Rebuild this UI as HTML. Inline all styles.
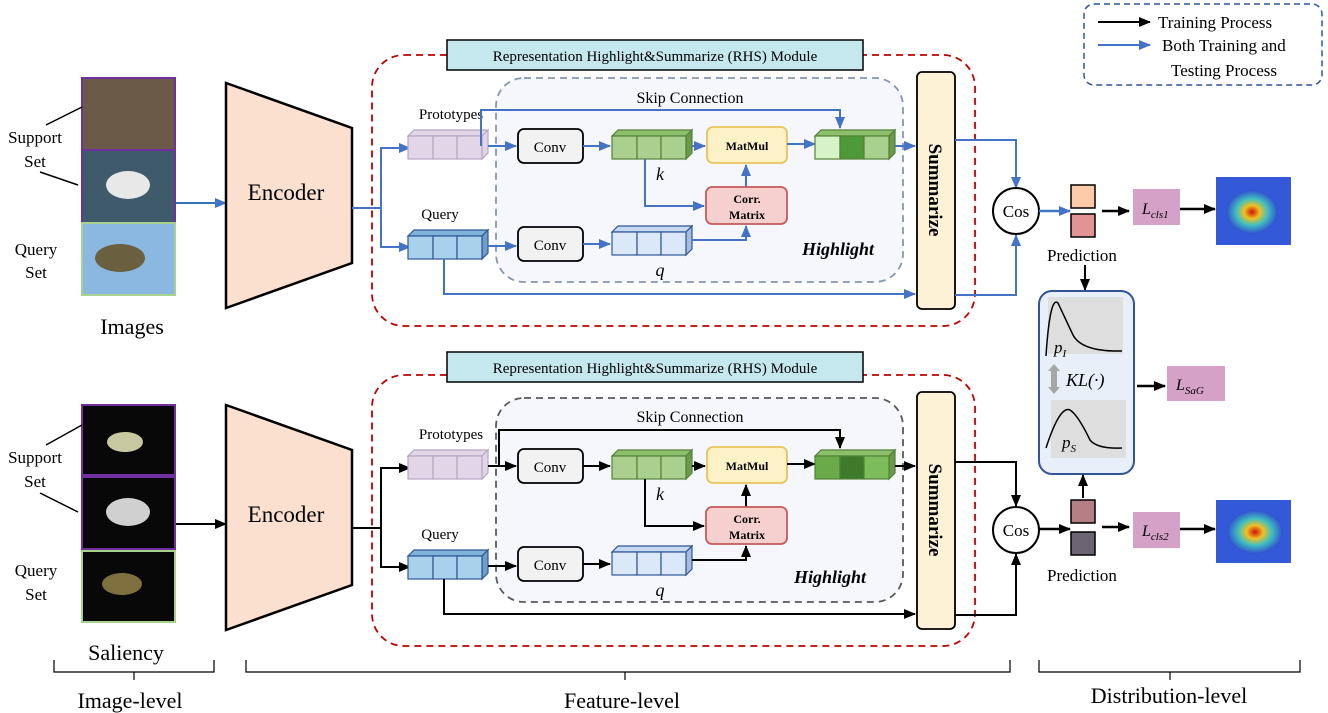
<!DOCTYPE html>
<html><head><meta charset="utf-8"><style>
html,body{margin:0;padding:0;background:#fff;}
svg{display:block;font-family:"Liberation Serif",serif;}
</style></head><body>
<svg width="1328" height="713" viewBox="0 0 1328 713" xmlns="http://www.w3.org/2000/svg">
<defs>
<marker id="ab" markerWidth="12" markerHeight="10" refX="11" refY="5" orient="auto" markerUnits="userSpaceOnUse"><path d="M0,0 L12,5 L0,10 z" fill="#4472c4"/></marker>
<marker id="ak" markerWidth="12" markerHeight="10" refX="11" refY="5" orient="auto" markerUnits="userSpaceOnUse"><path d="M0,0 L12,5 L0,10 z" fill="#000"/></marker>
<radialGradient id="heat" cx="0.5" cy="0.5" r="0.5"><stop offset="0" stop-color="#d01010"/><stop offset="0.3" stop-color="#f0c020"/><stop offset="0.6" stop-color="#40c0c0"/><stop offset="1" stop-color="#3050d0"/></radialGradient>
</defs>

<rect x="1084" y="4" width="238" height="81" rx="10" fill="none" stroke="#2f5597" stroke-width="1.5" stroke-dasharray="6,4"/>
<line x1="1098" y1="22" x2="1150" y2="22" stroke="#000" stroke-width="2" marker-end="url(#ak)"/>
<text x="1158" y="28" font-size="17">Training Process</text>
<line x1="1098" y1="45" x2="1150" y2="45" stroke="#4472c4" stroke-width="2" marker-end="url(#ab)"/>
<text x="1162" y="51" font-size="17">Both Training and</text>
<text x="1171" y="76" font-size="17">Testing Process</text>

<rect x="82" y="78" width="93" height="72" fill="#6b5a48" stroke="#7030a0" stroke-width="2"/>
<rect x="82" y="150" width="93" height="73" fill="#3f5a6a" stroke="#7030a0" stroke-width="2"/>
<ellipse cx="128" cy="185" rx="22" ry="14" fill="#e8e8e8"/>
<rect x="82" y="223" width="93" height="72" fill="#8ab8e0" stroke="#a9d18e" stroke-width="2"/>
<ellipse cx="120" cy="258" rx="25" ry="14" fill="#6a6040"/>
<text x="35" y="143" font-size="17" text-anchor="middle">Support</text>
<text x="35" y="167" font-size="17" text-anchor="middle">Set</text>
<line x1="46" y1="125" x2="82" y2="107" stroke="#000" stroke-width="1.5"/>
<line x1="40" y1="172" x2="78" y2="185" stroke="#000" stroke-width="1.5"/>
<text x="36" y="255" font-size="17" text-anchor="middle">Query</text>
<text x="36" y="278" font-size="17" text-anchor="middle">Set</text>
<text x="132" y="334" font-size="22" text-anchor="middle">Images</text>
<line x1="176" y1="203" x2="226" y2="203" stroke="#2e75b6" stroke-width="2" marker-end="url(#ab)"/>

<rect x="82" y="405" width="93" height="70" fill="#080808" stroke="#7030a0" stroke-width="2"/>
<ellipse cx="125" cy="442" rx="18" ry="10" fill="#c8c8a0"/>
<rect x="82" y="477" width="93" height="72" fill="#080808" stroke="#7030a0" stroke-width="2"/>
<ellipse cx="128" cy="512" rx="22" ry="14" fill="#d0d0d0"/>
<rect x="82" y="551" width="93" height="71" fill="#080808" stroke="#a9d18e" stroke-width="2"/>
<ellipse cx="122" cy="584" rx="20" ry="11" fill="#807040"/>
<text x="35" y="463" font-size="17" text-anchor="middle">Support</text>
<text x="35" y="487" font-size="17" text-anchor="middle">Set</text>
<line x1="46" y1="445" x2="82" y2="425" stroke="#000" stroke-width="1.5"/>
<line x1="40" y1="493" x2="78" y2="512" stroke="#000" stroke-width="1.5"/>
<text x="36" y="576" font-size="17" text-anchor="middle">Query</text>
<text x="36" y="600" font-size="17" text-anchor="middle">Set</text>
<text x="126" y="660" font-size="22" text-anchor="middle">Saliency</text>
<line x1="176" y1="524" x2="226" y2="524" stroke="#000" stroke-width="2" marker-end="url(#ak)"/>

<polygon points="226,83 352,128 352,263 226,308" fill="#fbe0d0" stroke="#000" stroke-width="2.5"/>
<text x="286" y="200" font-size="23" text-anchor="middle">Encoder</text>
<polygon points="226,405 352,450 352,585 226,630" fill="#fbe0d0" stroke="#000" stroke-width="2.5"/>
<text x="286" y="522" font-size="23" text-anchor="middle">Encoder</text>

<g>
<rect x="372" y="55" width="603" height="271" rx="32" fill="none" stroke="#c00000" stroke-width="1.8" stroke-dasharray="7,5"/>
<rect x="447" y="40" width="416" height="30" fill="#c5e8ef" stroke="#000" stroke-width="1.5"/>
<text x="655" y="61" font-size="15" text-anchor="middle">Representation Highlight&amp;Summarize (RHS) Module</text>
<rect x="496" y="78" width="407" height="204" rx="28" fill="#f5f7fd" stroke="#8497b0" stroke-width="1.8" stroke-dasharray="7,5"/>
<text x="690" y="103" font-size="16" text-anchor="middle">Skip Connection</text>
<text x="451" y="119" font-size="15" text-anchor="middle">Prototypes</text>
<text x="440" y="219" font-size="15" text-anchor="middle">Query</text>
<polyline points="352,208 381,208 381,148 410,148" fill="none" stroke="#4472c4" stroke-width="2" marker-end="url(#ab)"/>
<polyline points="381,208 381,247 410,247" fill="none" stroke="#4472c4" stroke-width="2" marker-end="url(#ab)"/>
<g stroke="#b4a7c4" stroke-width="1.2" fill="#e3d5e8">
<polygon points="408,136 414,130 488,130 482,136"/><polygon points="482,136 488,130 488,153 482,159"/>
<rect x="408" y="136" width="25" height="23"/><rect x="433" y="136" width="24" height="23"/><rect x="457" y="136" width="25" height="23"/></g>
<g stroke="#2f5597" stroke-width="1.2" fill="#a8d2ec">
<polygon points="408,236 414,230 488,230 482,236" fill="#7fb4da"/><polygon points="482,236 488,230 488,253 482,259" fill="#6f9fc8"/>
<rect x="408" y="236" width="25" height="23"/><rect x="433" y="236" width="24" height="23"/><rect x="457" y="236" width="25" height="23"/></g>
<polyline points="488,146 516,146" stroke="#4472c4" stroke-width="2" marker-end="url(#ab)"/>
<polyline points="481,146 481,110 840,110 840,128" fill="none" stroke="#4472c4" stroke-width="2" marker-end="url(#ab)"/>
<line x1="488" y1="246" x2="516" y2="246" stroke="#4472c4" stroke-width="2" marker-end="url(#ab)"/>
<polyline points="444,259 444,294 915,294" fill="none" stroke="#4472c4" stroke-width="2" marker-end="url(#ab)"/>
<rect x="518" y="129" width="65" height="34" rx="6" fill="#f2f2f2" stroke="#000" stroke-width="1.8"/>
<text x="550" y="152" font-size="15" text-anchor="middle">Conv</text>
<rect x="518" y="227" width="65" height="34" rx="6" fill="#f2f2f2" stroke="#000" stroke-width="1.8"/>
<text x="550" y="250" font-size="15" text-anchor="middle">Conv</text>
<line x1="583" y1="146" x2="610" y2="146" stroke="#4472c4" stroke-width="2" marker-end="url(#ab)"/>
<line x1="583" y1="244" x2="610" y2="244" stroke="#4472c4" stroke-width="2" marker-end="url(#ab)"/>
<g stroke="#538135" stroke-width="1.2" fill="#a9d08e">
<polygon points="612,136 618,130 692,130 686,136" fill="#8cc06c"/><polygon points="686,136 692,130 692,153 686,159" fill="#6a9a4a"/>
<rect x="612" y="136" width="25" height="23"/><rect x="637" y="136" width="24" height="23"/><rect x="661" y="136" width="25" height="23"/></g>
<g stroke="#2f5597" stroke-width="1.2" fill="#dae8fa">
<polygon points="612,232 618,226 692,226 686,232" fill="#c6d9f1"/><polygon points="686,232 692,226 692,249 686,255" fill="#a6bede"/>
<rect x="612" y="232" width="25" height="23"/><rect x="637" y="232" width="24" height="23"/><rect x="661" y="232" width="25" height="23"/></g>
<text x="660" y="180" font-size="18" font-style="italic" text-anchor="middle">k</text>
<text x="660" y="276" font-size="18" font-style="italic" text-anchor="middle">q</text>
<line x1="692" y1="146" x2="705" y2="146" stroke="#4472c4" stroke-width="2" marker-end="url(#ab)"/>
<polyline points="645,159 645,206 704,206" fill="none" stroke="#4472c4" stroke-width="2" marker-end="url(#ab)"/>
<polyline points="692,240 746,240 746,226" fill="none" stroke="#4472c4" stroke-width="2" marker-end="url(#ab)"/>
<line x1="746" y1="187" x2="746" y2="165" stroke="#4472c4" stroke-width="2" marker-end="url(#ab)"/>
<rect x="707" y="127" width="80" height="36" rx="6" fill="#fdf1c7" stroke="#e8c35a" stroke-width="1.8"/>
<text x="747" y="150" font-size="12" font-weight="bold" text-anchor="middle">MatMul</text>
<rect x="706" y="187" width="81" height="37" rx="6" fill="#f6cfcf" stroke="#c55a5a" stroke-width="1.8"/>
<text x="747" y="203" font-size="12" font-weight="bold" text-anchor="middle">Corr.</text>
<text x="747" y="219" font-size="12" font-weight="bold" text-anchor="middle">Matrix</text>
<line x1="787" y1="144" x2="815" y2="144" stroke="#4472c4" stroke-width="2" marker-end="url(#ab)"/>
<g stroke="#538135" stroke-width="1.2">
<polygon points="815,136 821,130 895,130 889,136" fill="#8cc06c"/><polygon points="889,136 895,130 895,153 889,159" fill="#6a9a4a"/>
<rect x="815" y="136" width="25" height="23" fill="#d8f2c8"/><rect x="840" y="136" width="24" height="23" fill="#4e9a3a"/><rect x="864" y="136" width="25" height="23" fill="#a9d08e"/></g>
<line x1="895" y1="146" x2="915" y2="146" stroke="#4472c4" stroke-width="2" marker-end="url(#ab)"/>
<text x="838" y="255" font-size="18" font-weight="bold" font-style="italic" text-anchor="middle">Highlight</text>
<rect x="917" y="72" width="38" height="237" rx="5" fill="#fdf1d6" stroke="#000" stroke-width="1.8"/>
<text transform="translate(929,190) rotate(90)" font-size="19" font-weight="bold" text-anchor="middle">Summarize</text>
<polyline points="955,140 1016,140 1016,188" fill="none" stroke="#4472c4" stroke-width="2" marker-end="url(#ab)"/>
<polyline points="955,295 1016,295 1016,235" fill="none" stroke="#4472c4" stroke-width="2" marker-end="url(#ab)"/>
</g>

<g>
<rect x="372" y="375" width="603" height="271" rx="32" fill="none" stroke="#c00000" stroke-width="1.8" stroke-dasharray="7,5"/>
<rect x="447" y="352" width="416" height="30" fill="#c5e8ef" stroke="#000" stroke-width="1.5"/>
<text x="655" y="373" font-size="15" text-anchor="middle">Representation Highlight&amp;Summarize (RHS) Module</text>
<rect x="496" y="398" width="407" height="204" rx="28" fill="#f5f7fd" stroke="#595959" stroke-width="1.8" stroke-dasharray="7,5"/>
<text x="690" y="422" font-size="16" text-anchor="middle">Skip Connection</text>
<text x="451" y="439" font-size="15" text-anchor="middle">Prototypes</text>
<text x="440" y="539" font-size="15" text-anchor="middle">Query</text>
<polyline points="352,528 381,528 381,468 410,468" fill="none" stroke="#000" stroke-width="2" marker-end="url(#ak)"/>
<polyline points="381,528 381,567 410,567" fill="none" stroke="#000" stroke-width="2" marker-end="url(#ak)"/>
<g stroke="#b4a7c4" stroke-width="1.2" fill="#e3d5e8">
<polygon points="408,456 414,450 488,450 482,456"/><polygon points="482,456 488,450 488,473 482,479"/>
<rect x="408" y="456" width="25" height="23"/><rect x="433" y="456" width="24" height="23"/><rect x="457" y="456" width="25" height="23"/></g>
<g stroke="#2f5597" stroke-width="1.2" fill="#a8d2ec">
<polygon points="408,556 414,550 488,550 482,556" fill="#7fb4da"/><polygon points="482,556 488,550 488,573 482,579" fill="#6f9fc8"/>
<rect x="408" y="556" width="25" height="23"/><rect x="433" y="556" width="24" height="23"/><rect x="457" y="556" width="25" height="23"/></g>
<line x1="488" y1="466" x2="516" y2="466" stroke="#000" stroke-width="2" marker-end="url(#ak)"/>
<polyline points="499,466 499,430 840,430 840,448" fill="none" stroke="#000" stroke-width="2" marker-end="url(#ak)"/>
<line x1="488" y1="566" x2="516" y2="566" stroke="#000" stroke-width="2" marker-end="url(#ak)"/>
<polyline points="444,579 444,614 915,614" fill="none" stroke="#000" stroke-width="2" marker-end="url(#ak)"/>
<rect x="518" y="449" width="65" height="34" rx="6" fill="#f2f2f2" stroke="#000" stroke-width="1.8"/>
<text x="550" y="472" font-size="15" text-anchor="middle">Conv</text>
<rect x="518" y="547" width="65" height="34" rx="6" fill="#f2f2f2" stroke="#000" stroke-width="1.8"/>
<text x="550" y="570" font-size="15" text-anchor="middle">Conv</text>
<line x1="583" y1="466" x2="610" y2="466" stroke="#000" stroke-width="2" marker-end="url(#ak)"/>
<line x1="583" y1="564" x2="610" y2="564" stroke="#000" stroke-width="2" marker-end="url(#ak)"/>
<g stroke="#538135" stroke-width="1.2" fill="#a9d08e">
<polygon points="612,456 618,450 692,450 686,456" fill="#8cc06c"/><polygon points="686,456 692,450 692,473 686,479" fill="#6a9a4a"/>
<rect x="612" y="456" width="25" height="23"/><rect x="637" y="456" width="24" height="23"/><rect x="661" y="456" width="25" height="23"/></g>
<g stroke="#2f5597" stroke-width="1.2" fill="#dae8fa">
<polygon points="612,552 618,546 692,546 686,552" fill="#c6d9f1"/><polygon points="686,552 692,546 692,569 686,575" fill="#a6bede"/>
<rect x="612" y="552" width="25" height="23"/><rect x="637" y="552" width="24" height="23"/><rect x="661" y="552" width="25" height="23"/></g>
<text x="660" y="500" font-size="18" font-style="italic" text-anchor="middle">k</text>
<text x="660" y="596" font-size="18" font-style="italic" text-anchor="middle">q</text>
<line x1="692" y1="466" x2="705" y2="466" stroke="#000" stroke-width="2" marker-end="url(#ak)"/>
<polyline points="645,479 645,526 704,526" fill="none" stroke="#000" stroke-width="2" marker-end="url(#ak)"/>
<polyline points="692,560 746,560 746,546" fill="none" stroke="#000" stroke-width="2" marker-end="url(#ak)"/>
<line x1="746" y1="507" x2="746" y2="485" stroke="#000" stroke-width="2" marker-end="url(#ak)"/>
<rect x="707" y="447" width="80" height="36" rx="6" fill="#fdf1c7" stroke="#e8c35a" stroke-width="1.8"/>
<text x="747" y="470" font-size="12" font-weight="bold" text-anchor="middle">MatMul</text>
<rect x="706" y="507" width="81" height="37" rx="6" fill="#f6cfcf" stroke="#c55a5a" stroke-width="1.8"/>
<text x="747" y="523" font-size="12" font-weight="bold" text-anchor="middle">Corr.</text>
<text x="747" y="539" font-size="12" font-weight="bold" text-anchor="middle">Matrix</text>
<line x1="787" y1="464" x2="815" y2="464" stroke="#000" stroke-width="2" marker-end="url(#ak)"/>
<g stroke="#538135" stroke-width="1.2">
<polygon points="815,456 821,450 895,450 889,456" fill="#8cc06c"/><polygon points="889,456 895,450 895,473 889,479" fill="#6a9a4a"/>
<rect x="815" y="456" width="25" height="23" fill="#6aaa4a"/><rect x="840" y="456" width="24" height="23" fill="#3e7a2a"/><rect x="864" y="456" width="25" height="23" fill="#7cbc5a"/></g>
<line x1="895" y1="466" x2="915" y2="466" stroke="#000" stroke-width="2" marker-end="url(#ak)"/>
<text x="830" y="583" font-size="18" font-weight="bold" font-style="italic" text-anchor="middle">Highlight</text>
<rect x="917" y="392" width="38" height="237" rx="5" fill="#fdf1d6" stroke="#000" stroke-width="1.8"/>
<text transform="translate(929,510) rotate(90)" font-size="19" font-weight="bold" text-anchor="middle">Summarize</text>
<polyline points="955,462 1016,462 1016,506" fill="none" stroke="#000" stroke-width="2" marker-end="url(#ak)"/>
<polyline points="955,615 1016,615 1016,554" fill="none" stroke="#000" stroke-width="2" marker-end="url(#ak)"/>
</g>

<circle cx="1016" cy="211" r="23" fill="#fff" stroke="#000" stroke-width="2"/>
<text x="1016" y="217" font-size="17" text-anchor="middle">Cos</text>
<line x1="1039" y1="211" x2="1070" y2="211" stroke="#4472c4" stroke-width="2.5" marker-end="url(#ab)"/>
<rect x="1071" y="185" width="24" height="23" fill="#fccaa8" stroke="#000" stroke-width="1.5"/>
<rect x="1071" y="214" width="24" height="23" fill="#e29494" stroke="#000" stroke-width="1.5"/>
<text x="1082" y="261" font-size="17" text-anchor="middle">Prediction</text>
<line x1="1102" y1="211" x2="1129" y2="211" stroke="#000" stroke-width="2.5" marker-end="url(#ak)"/>
<rect x="1133" y="189" width="47" height="36" fill="#d5a1c6"/>
<text x="1142" y="214" font-size="16" font-style="italic">L<tspan font-size="11" dy="4">cls1</tspan></text>
<line x1="1180" y1="209" x2="1215" y2="209" stroke="#000" stroke-width="2.5" marker-end="url(#ak)"/>
<rect x="1216" y="177" width="75" height="68" fill="#3358d8"/>
<ellipse cx="1252" cy="212" rx="26" ry="22" fill="url(#heat)"/>
<line x1="1085" y1="265" x2="1085" y2="290" stroke="#000" stroke-width="2" marker-end="url(#ak)"/>

<rect x="1039" y="291" width="95" height="183" rx="13" fill="#e8eff8" stroke="#2f5597" stroke-width="2"/>
<rect x="1048" y="297" width="75" height="57" fill="#dedede"/>
<path d="M1046,356 Q1050,295 1058,303 Q1065,318 1073,335 Q1082,352 1122,351" fill="none" stroke="#000" stroke-width="1.5"/>
<text x="1054" y="353" font-size="17" font-style="italic">p<tspan font-size="11" dy="4">I</tspan></text>
<rect x="1051" y="400" width="75" height="58" fill="#dedede"/>
<path d="M1046,448 Q1060,405 1070,410 Q1078,415 1090,440 Q1097,449 1122,448" fill="none" stroke="#000" stroke-width="1.5"/>
<text x="1062" y="448" font-size="17" font-style="italic">p<tspan font-size="11" dy="4">S</tspan></text>
<path d="M1054,364 L1060,371 L1057,371 L1057,387 L1060,387 L1054,394 L1048,387 L1051,387 L1051,371 L1048,371 z" fill="#a6a6a6"/>
<text x="1066" y="386" font-size="18" font-style="italic">KL(·)</text>
<line x1="1137" y1="386" x2="1165" y2="386" stroke="#000" stroke-width="2.5" marker-end="url(#ak)"/>
<rect x="1167" y="366" width="58" height="35" fill="#d5a1c6"/>
<text x="1176" y="390" font-size="16" font-style="italic">L<tspan font-size="11" dy="4">SaG</tspan></text>

<circle cx="1016" cy="530" r="23" fill="#fff" stroke="#000" stroke-width="2"/>
<text x="1016" y="536" font-size="17" text-anchor="middle">Cos</text>
<line x1="1039" y1="529" x2="1070" y2="529" stroke="#000" stroke-width="2.5" marker-end="url(#ak)"/>
<rect x="1071" y="500" width="24" height="23" fill="#b67f86" stroke="#000" stroke-width="1.5"/>
<rect x="1071" y="532" width="24" height="23" fill="#6c6473" stroke="#000" stroke-width="1.5"/>
<line x1="1083" y1="498" x2="1083" y2="475" stroke="#000" stroke-width="2" marker-end="url(#ak)"/>
<text x="1082" y="581" font-size="17" text-anchor="middle">Prediction</text>
<line x1="1102" y1="527" x2="1129" y2="527" stroke="#000" stroke-width="2.5" marker-end="url(#ak)"/>
<rect x="1133" y="512" width="47" height="36" fill="#d5a1c6"/>
<text x="1142" y="536" font-size="16" font-style="italic">L<tspan font-size="11" dy="4">cls2</tspan></text>
<line x1="1180" y1="529" x2="1215" y2="529" stroke="#000" stroke-width="2.5" marker-end="url(#ak)"/>
<rect x="1216" y="500" width="75" height="63" fill="#3358d8"/>
<ellipse cx="1255" cy="532" rx="28" ry="22" fill="url(#heat)"/>

<path d="M54,660 L54,672 L214,672 L214,660 M134,672 L134,680" fill="none" stroke="#000" stroke-width="1.2"/>
<text x="130" y="708" font-size="22" text-anchor="middle">Image-level</text>
<path d="M246,660 L246,672 L1010,672 L1010,660 M625,672 L625,680" fill="none" stroke="#000" stroke-width="1.2"/>
<text x="622" y="708" font-size="22" text-anchor="middle">Feature-level</text>
<path d="M1039,660 L1039,672 L1300,672 L1300,660 M1170,672 L1170,680" fill="none" stroke="#000" stroke-width="1.2"/>
<text x="1169" y="703" font-size="22" text-anchor="middle">Distribution-level</text>
</svg>
</body></html>
